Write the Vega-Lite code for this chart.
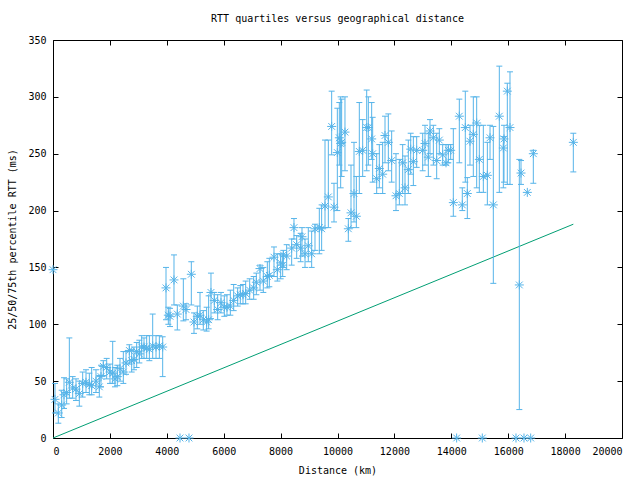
{
  "$schema": "https://vega.github.io/schema/vega-lite/v6.json",
  "width": 569,
  "height": 398,
  "autosize": {"type": "none"},
  "padding": {"left": 53, "top": 40, "right": 18, "bottom": 42},
  "background": "white",
  "title": {"text": "RTT quartiles versus geographical distance", "font": "DejaVu Sans Mono", "fontSize": 10, "fontWeight": "normal", "color": "black", "offset": 11, "anchor": "middle"},
  "config": {
    "view": {"stroke": "black", "strokeWidth": 1},
    "axis": {"domain": false, "grid": false, "tickColor": "black", "tickSize": -5, "labelFont": "DejaVu Sans Mono", "labelFontSize": 10, "labelColor": "black", "titleFont": "DejaVu Sans Mono", "titleFontSize": 10, "titleFontWeight": "normal", "titleColor": "black"}
  },
  "datasets": {
    "rtt": [
      {"d": 0, "med": 148, "lo": null, "hi": null},
      {"d": 70, "med": 34, "lo": 22, "hi": 48},
      {"d": 187, "med": 22, "lo": 13, "hi": 30},
      {"d": 305, "med": 29, "lo": 18, "hi": 42},
      {"d": 387, "med": 38, "lo": 26, "hi": 53},
      {"d": 480, "med": 40, "lo": 30, "hi": 52},
      {"d": 574, "med": 49, "lo": 35, "hi": 88},
      {"d": 692, "med": 44, "lo": 35, "hi": 54},
      {"d": 808, "med": 43, "lo": 33, "hi": 52},
      {"d": 925, "med": 39, "lo": 28, "hi": 50},
      {"d": 1043, "med": 48, "lo": 36, "hi": 58},
      {"d": 1160, "med": 49, "lo": 40, "hi": 60},
      {"d": 1277, "med": 47, "lo": 38, "hi": 57},
      {"d": 1359, "med": 46, "lo": 38, "hi": 62},
      {"d": 1511, "med": 50, "lo": 40, "hi": 60},
      {"d": 1628, "med": 45, "lo": 36, "hi": 55},
      {"d": 1687, "med": 54, "lo": 45, "hi": 64},
      {"d": 1769, "med": 63, "lo": 55, "hi": 68},
      {"d": 1887, "med": 62, "lo": 52, "hi": 70},
      {"d": 2003, "med": 58, "lo": 48, "hi": 65},
      {"d": 2098, "med": 57, "lo": 48, "hi": 85},
      {"d": 2179, "med": 52, "lo": 45, "hi": 62},
      {"d": 2261, "med": 54, "lo": 46, "hi": 64},
      {"d": 2355, "med": 61, "lo": 50, "hi": 70},
      {"d": 2472, "med": 58, "lo": 48, "hi": 76},
      {"d": 2566, "med": 66, "lo": 56, "hi": 76},
      {"d": 2683, "med": 77, "lo": 65, "hi": 82},
      {"d": 2765, "med": 68, "lo": 58, "hi": 78},
      {"d": 2847, "med": 69, "lo": 60, "hi": 80},
      {"d": 2941, "med": 76, "lo": 62, "hi": 84},
      {"d": 3035, "med": 74, "lo": 66, "hi": 86},
      {"d": 3117, "med": 80, "lo": 70, "hi": 90},
      {"d": 3199, "med": 80, "lo": 70, "hi": 88},
      {"d": 3293, "med": 79, "lo": 70, "hi": 90},
      {"d": 3387, "med": 78, "lo": 68, "hi": 90},
      {"d": 3504, "med": 81, "lo": 70, "hi": 109},
      {"d": 3621, "med": 80, "lo": 70, "hi": 90},
      {"d": 3738, "med": 81, "lo": 70, "hi": 90},
      {"d": 3855, "med": 80, "lo": 54, "hi": 89},
      {"d": 3972, "med": 132, "lo": 104, "hi": 150},
      {"d": 4054, "med": 108, "lo": 100, "hi": 115},
      {"d": 4112, "med": 107, "lo": 98, "hi": 114},
      {"d": 4253, "med": 139, "lo": 117, "hi": 161},
      {"d": 4370, "med": 109, "lo": 95, "hi": 117},
      {"d": 4464, "med": 0, "lo": null, "hi": null},
      {"d": 4581, "med": 116, "lo": 103, "hi": 140},
      {"d": 4675, "med": 113, "lo": 104, "hi": 118},
      {"d": 4780, "med": 0, "lo": null, "hi": null},
      {"d": 4862, "med": 144, "lo": 117, "hi": 155},
      {"d": 4956, "med": 102, "lo": 92, "hi": 110},
      {"d": 5073, "med": 107, "lo": 96, "hi": 116},
      {"d": 5167, "med": 108, "lo": 100, "hi": 128},
      {"d": 5283, "med": 104, "lo": 95, "hi": 112},
      {"d": 5400, "med": 102, "lo": 94, "hi": 115},
      {"d": 5471, "med": 104, "lo": 96, "hi": 125},
      {"d": 5553, "med": 128, "lo": 105, "hi": 145},
      {"d": 5670, "med": 121, "lo": 110, "hi": 128},
      {"d": 5788, "med": 113, "lo": 104, "hi": 126},
      {"d": 5905, "med": 119, "lo": 110, "hi": 128},
      {"d": 6022, "med": 115, "lo": 107, "hi": 125},
      {"d": 6115, "med": 115, "lo": 108, "hi": 126},
      {"d": 6233, "med": 116, "lo": 108, "hi": 130},
      {"d": 6350, "med": 121, "lo": 112, "hi": 135},
      {"d": 6491, "med": 125, "lo": 116, "hi": 132},
      {"d": 6585, "med": 126, "lo": 118, "hi": 134},
      {"d": 6678, "med": 126, "lo": 118, "hi": 135},
      {"d": 6772, "med": 127, "lo": 118, "hi": 138},
      {"d": 6913, "med": 130, "lo": 122, "hi": 140},
      {"d": 7053, "med": 132, "lo": 122, "hi": 142},
      {"d": 7147, "med": 137, "lo": 126, "hi": 145},
      {"d": 7276, "med": 149, "lo": 130, "hi": 152},
      {"d": 7393, "med": 138, "lo": 128, "hi": 150},
      {"d": 7534, "med": 142, "lo": 132, "hi": 155},
      {"d": 7604, "med": 143, "lo": 133, "hi": 158},
      {"d": 7768, "med": 159, "lo": 142, "hi": 168},
      {"d": 7885, "med": 148, "lo": 138, "hi": 162},
      {"d": 8002, "med": 154, "lo": 140, "hi": 162},
      {"d": 8073, "med": 152, "lo": 142, "hi": 160},
      {"d": 8096, "med": 161, "lo": 150, "hi": 165},
      {"d": 8213, "med": 160, "lo": 148, "hi": 170},
      {"d": 8389, "med": 167, "lo": 152, "hi": 175},
      {"d": 8470, "med": 185, "lo": 175, "hi": 193},
      {"d": 8565, "med": 170, "lo": 158, "hi": 178},
      {"d": 8705, "med": 167, "lo": 155, "hi": 180},
      {"d": 8752, "med": 177, "lo": 160, "hi": 185},
      {"d": 8858, "med": 162, "lo": 150, "hi": 175},
      {"d": 8974, "med": 169, "lo": 155, "hi": 185},
      {"d": 9092, "med": 162, "lo": 150, "hi": 182},
      {"d": 9209, "med": 184, "lo": 165, "hi": 188},
      {"d": 9361, "med": 185, "lo": 162, "hi": 202},
      {"d": 9443, "med": 184, "lo": 165, "hi": 205},
      {"d": 9561, "med": 204, "lo": 185, "hi": 262},
      {"d": 9678, "med": 212, "lo": 185, "hi": 262},
      {"d": 9795, "med": 274, "lo": 249, "hi": 305},
      {"d": 9877, "med": 203, "lo": 190, "hi": 224},
      {"d": 9994, "med": 251, "lo": 200, "hi": 290},
      {"d": 10064, "med": 264, "lo": 240, "hi": 295},
      {"d": 10111, "med": 259, "lo": 220, "hi": 300},
      {"d": 10146, "med": 260, "lo": 230, "hi": 298},
      {"d": 10263, "med": 269, "lo": 235, "hi": 300},
      {"d": 10381, "med": 184, "lo": 173, "hi": 193},
      {"d": 10475, "med": 198, "lo": 185, "hi": 240},
      {"d": 10580, "med": 215, "lo": 190, "hi": 260},
      {"d": 10662, "med": 195, "lo": 185, "hi": 230},
      {"d": 10767, "med": 252, "lo": 215, "hi": 295},
      {"d": 10885, "med": 253, "lo": 230, "hi": 280},
      {"d": 11026, "med": 273, "lo": 235, "hi": 306},
      {"d": 11084, "med": 273, "lo": 240, "hi": 300},
      {"d": 11201, "med": 263, "lo": 245, "hi": 295},
      {"d": 11236, "med": 250, "lo": 225, "hi": 282},
      {"d": 11377, "med": 228, "lo": 215, "hi": 250},
      {"d": 11470, "med": 237, "lo": 220, "hi": 258},
      {"d": 11587, "med": 232, "lo": 215, "hi": 260},
      {"d": 11670, "med": 266, "lo": 242, "hi": 283},
      {"d": 11787, "med": 260, "lo": 235, "hi": 285},
      {"d": 11904, "med": 244, "lo": 225, "hi": 270},
      {"d": 12056, "med": 213, "lo": 200, "hi": 250},
      {"d": 12174, "med": 215, "lo": 205, "hi": 245},
      {"d": 12291, "med": 242, "lo": 215, "hi": 258},
      {"d": 12373, "med": 220, "lo": 205, "hi": 248},
      {"d": 12490, "med": 236, "lo": 215, "hi": 262},
      {"d": 12573, "med": 254, "lo": 232, "hi": 268},
      {"d": 12666, "med": 243, "lo": 222, "hi": 265},
      {"d": 12783, "med": 253, "lo": 238, "hi": 265},
      {"d": 12994, "med": 253, "lo": 235, "hi": 268},
      {"d": 13076, "med": 259, "lo": 240, "hi": 275},
      {"d": 13193, "med": 247, "lo": 230, "hi": 268},
      {"d": 13251, "med": 270, "lo": 250, "hi": 280},
      {"d": 13369, "med": 264, "lo": 240, "hi": 275},
      {"d": 13486, "med": 244, "lo": 228, "hi": 268},
      {"d": 13579, "med": 262, "lo": 250, "hi": 272},
      {"d": 13697, "med": 249, "lo": 240, "hi": 258},
      {"d": 13814, "med": 242, "lo": 240, "hi": 258},
      {"d": 13896, "med": 253, "lo": 242, "hi": 258},
      {"d": 13978, "med": 253, "lo": 245, "hi": 258},
      {"d": 14071, "med": 207, "lo": 195, "hi": 272},
      {"d": 14188, "med": 0, "lo": null, "hi": null},
      {"d": 14282, "med": 283, "lo": 242, "hi": 298},
      {"d": 14387, "med": 205, "lo": 200, "hi": 220},
      {"d": 14492, "med": 273, "lo": 225, "hi": 305},
      {"d": 14563, "med": 215, "lo": 193, "hi": 229},
      {"d": 14657, "med": 261, "lo": 240, "hi": 275},
      {"d": 14774, "med": 267, "lo": 230, "hi": 300},
      {"d": 14892, "med": 277, "lo": 220, "hi": 300},
      {"d": 14985, "med": 245, "lo": 216, "hi": 275},
      {"d": 15090, "med": 0, "lo": null, "hi": null},
      {"d": 15126, "med": 230, "lo": 216, "hi": 275},
      {"d": 15267, "med": 231, "lo": 205, "hi": 260},
      {"d": 15361, "med": 264, "lo": 245, "hi": 275},
      {"d": 15477, "med": 205, "lo": 136, "hi": 274},
      {"d": 15688, "med": 283, "lo": 216, "hi": 327},
      {"d": 15829, "med": 255, "lo": 220, "hi": 265},
      {"d": 15852, "med": 263, "lo": 225, "hi": 275},
      {"d": 15969, "med": 305, "lo": 223, "hi": 312},
      {"d": 16063, "med": 273, "lo": 223, "hi": 322},
      {"d": 16274, "med": 0, "lo": null, "hi": null},
      {"d": 16391, "med": 134.6, "lo": 25, "hi": 245},
      {"d": 16450, "med": 233, "lo": 223, "hi": 244},
      {"d": 16555, "med": 0, "lo": null, "hi": null},
      {"d": 16672, "med": 216, "lo": null, "hi": null},
      {"d": 16790, "med": 0, "lo": null, "hi": null},
      {"d": 16883, "med": 250, "lo": 224, "hi": 253},
      {"d": 18289, "med": 260, "lo": 234, "hi": 268}
    ],
    "minrtt": [
      {"d": 0, "rtt": 0},
      {"d": 18289, "rtt": 188}
    ]
  },
  "resolve": {"axis": {"x": "independent", "y": "independent"}},
  "layer": [
    {
      "data": {"name": "minrtt"},
      "mark": {"type": "line", "color": "#009e73", "strokeWidth": 1},
      "encoding": {
        "x": {"field": "d", "type": "quantitative", "scale": {"domain": [0, 20000], "nice": false}, "axis": {"orient": "bottom", "title": "Distance (km)", "values": [0,2000,4000,6000,8000,10000,12000,14000,16000,18000,20000], "format": "d", "labelPadding": 13, "titlePadding": 9}},
        "y": {"field": "rtt", "type": "quantitative", "scale": {"domain": [0, 350], "nice": false}, "axis": {"orient": "left", "title": "25/50/75th percentile RTT (ms)", "values": [0,50,100,150,200,250,300,350], "format": "d", "labelPadding": 12, "titlePadding": 10}}
      }
    },
    {
      "data": {"name": "rtt"},
      "mark": {"type": "rule", "color": "#56b4e9", "strokeWidth": 1},
      "encoding": {
        "x": {"field": "d", "type": "quantitative", "axis": null},
        "y": {"field": "lo", "type": "quantitative", "axis": null},
        "y2": {"field": "hi"}
      }
    },
    {
      "data": {"name": "rtt"},
      "mark": {"type": "point", "shape": "M-1,0L1,0", "filled": false, "stroke": "#56b4e9", "strokeWidth": 1, "size": 36, "opacity": 1},
      "encoding": {
        "x": {"field": "d", "type": "quantitative", "axis": null},
        "y": {"field": "lo", "type": "quantitative", "axis": null}
      }
    },
    {
      "data": {"name": "rtt"},
      "mark": {"type": "point", "shape": "M-1,0L1,0", "filled": false, "stroke": "#56b4e9", "strokeWidth": 1, "size": 36, "opacity": 1},
      "encoding": {
        "x": {"field": "d", "type": "quantitative", "axis": null},
        "y": {"field": "hi", "type": "quantitative", "axis": null}
      }
    },
    {
      "data": {"name": "rtt"},
      "mark": {"type": "point", "shape": "M-1,0L1,0M0,-1L0,1M-0.75,-0.75L0.75,0.75M-0.75,0.75L0.75,-0.75", "filled": false, "stroke": "#56b4e9", "strokeWidth": 1, "size": 81, "opacity": 1},
      "encoding": {
        "x": {"field": "d", "type": "quantitative", "axis": {"orient": "top", "labels": false, "title": null, "values": [0,2000,4000,6000,8000,10000,12000,14000,16000,18000,20000]}},
        "y": {"field": "med", "type": "quantitative", "axis": {"orient": "right", "labels": false, "title": null, "values": [0,50,100,150,200,250,300,350]}}
      }
    }
  ]
}
